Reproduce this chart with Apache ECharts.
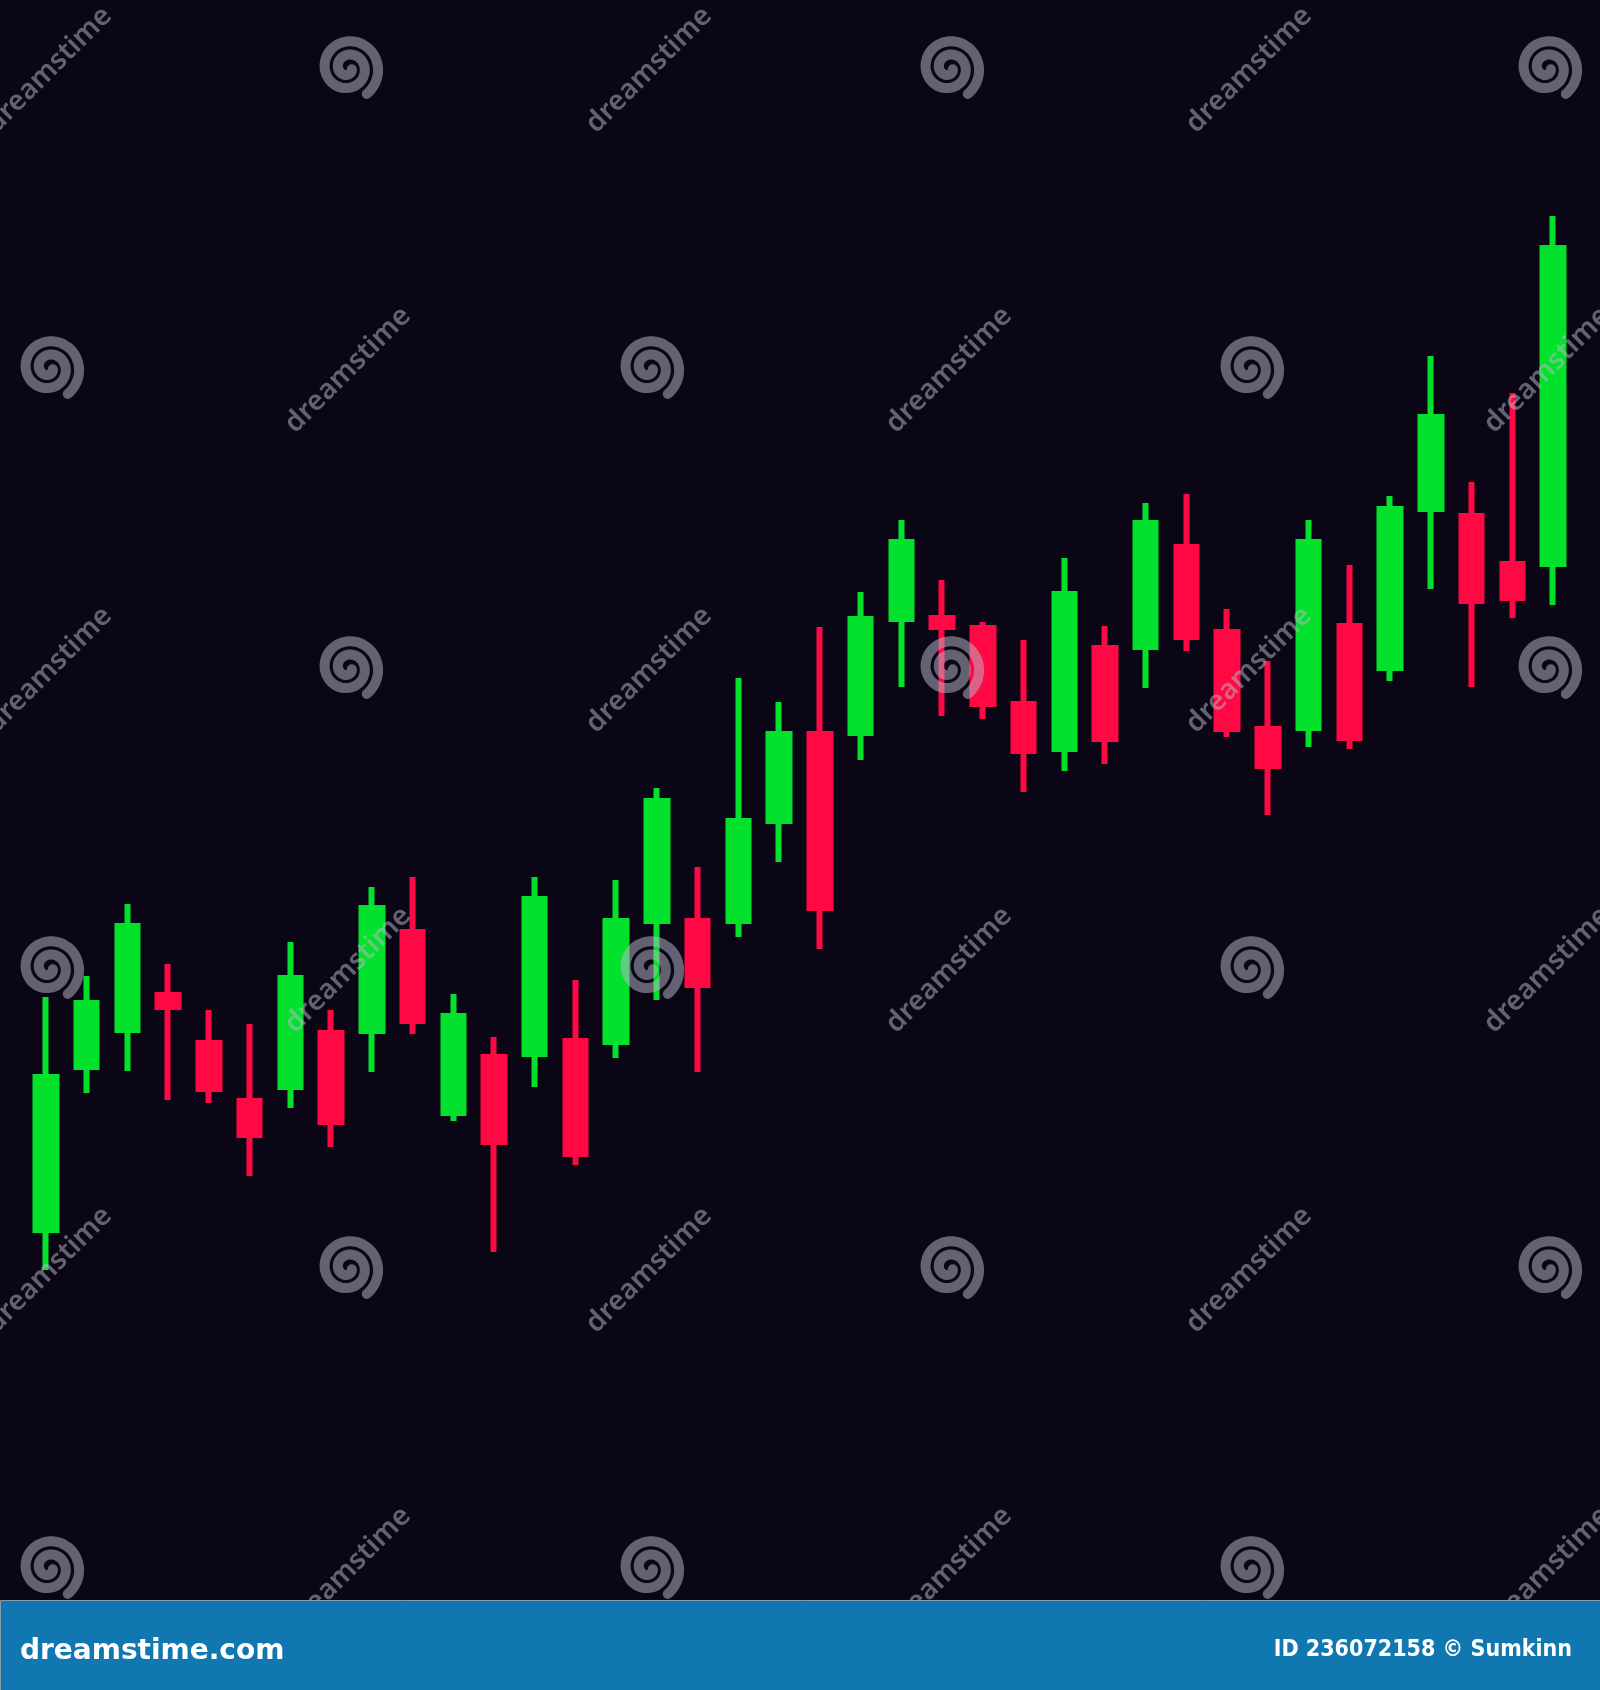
<!DOCTYPE html>
<html>
<head>
<meta charset="utf-8">
<script src="https://cdn.jsdelivr.net/npm/echarts@6/dist/echarts.min.js"></script>
<style>
  html, body { margin: 0; padding: 0; background: #0a0616; }
  #chart { width: 1600px; height: 1690px; }
</style>
</head>
<body>
<div id="chart"></div>
<script>
const categories = ['1','2','3','4','5','6','7','8','9','10','11','12','13','14','15','16','17','18','19','20',
  '21','22','23','24','25','26','27','28','29','30','31','32','33','34','35','36','37','38'];
const openValues  = [37.0, 53.3, 57.0, 60.5, 55.7, 49.9, 51.3, 56.7, 56.9, 66.8, 48.7, 54.3, 54.6, 55.9, 55.8, 67.9, 67.9, 67.9, 77.9, 86.6,
  86.7, 98.1, 98.2, 97.2, 89.6, 85.1, 95.2, 95.3, 105.3, 96.8, 87.1, 87.2, 97.4, 93.2, 109.1, 108.4, 103.6, 103.6];
const closeValues = [52.3, 59.7, 67.4, 59.3, 51.1, 46.5, 62.2, 47.8, 69.2, 57.9, 58.4, 45.8, 70.1, 44.6, 67.9, 79.9, 61.5, 77.9, 86.6, 69.2,
  98.1, 105.8, 97.3, 89.6, 84.9, 100.6, 86.1, 107.7, 96.3, 87.1, 83.4, 105.8, 86.2, 109.1, 118.3, 99.9, 100.2, 135.2];
const lowValues   = [33.0, 50.7, 52.9, 50.0, 49.7, 42.4, 49.2, 45.3, 52.8, 56.6, 47.9, 34.8, 51.3, 43.5, 54.2, 60.0, 52.8, 66.3, 73.8, 65.1,
  84.0, 91.3, 88.4, 88.1, 80.8, 82.9, 83.6, 91.2, 94.9, 86.3, 78.5, 85.3, 85.1, 91.9, 101.1, 91.3, 98.2, 99.5];
const highValues  = [60.3, 62.4, 69.6, 63.6, 59.0, 57.6, 65.8, 59.0, 71.3, 72.3, 60.6, 56.3, 72.3, 62.0, 72.0, 81.2, 73.3, 92.2, 89.8, 97.3,
  100.8, 108.0, 102.0, 97.8, 96.0, 104.2, 97.4, 109.7, 110.6, 99.1, 93.9, 108.0, 103.5, 110.4, 124.4, 111.8, 120.7, 138.4];

const footerLeft = 'dreamstime.com';
const footerRight = 'ID 236072158 \u00A9 Sumkinn';
const watermarkText = 'dreamstime';

const ohlc = categories.map((c, i) => [openValues[i], closeValues[i], lowValues[i], highValues[i]]);

// decorative watermark elements
function spiralPoints() {
  const pts = [];
  const turns = 2.1, rOuter = 32, rInner = 4;
  const steps = 160;
  const start = Math.PI * 0.3;
  for (let s = 0; s <= steps; s++) {
    const t = s / steps;
    const a = start - t * turns * 2 * Math.PI;
    const r = rOuter - (rOuter - rInner) * t;
    pts.push([r * Math.cos(a), r * Math.sin(a)]);
  }
  return pts;
}
const spiral = spiralPoints();
const wmColor = 'rgba(185,185,200,0.52)';
const graphics = [];
for (let j = 0; j < 6; j++) {
  const y = 70 + 300 * j;
  const even = j % 2 === 0;
  const spiralXs = even ? [348, 949, 1547] : [49, 649, 1249];
  const textXs = even ? [49, 649, 1249] : [348, 949, 1547];
  spiralXs.forEach(x => graphics.push({
    type: 'polyline', x: x, y: y - 2, z: 50, silent: true,
    shape: { points: spiral },
    style: { stroke: wmColor, lineWidth: 10, fill: null, lineCap: 'round' }
  }));
  textXs.forEach(x => graphics.push({
    type: 'text', x: x, y: y, z: 50, rotation: Math.PI / 4, silent: true,
    style: { text: watermarkText, font: '600 28px "Noto Sans", sans-serif', fill: wmColor, align: 'center', verticalAlign: 'middle' }
  }));
}
// footer
graphics.push({
  type: 'rect', z: 100, left: 0, top: 1600, silent: true,
  shape: { x: 0, y: 0, width: 1600, height: 90 },
  style: { fill: '#1077b0', stroke: '#8a9aa8', lineWidth: 1 }
});
graphics.push({
  type: 'text', z: 101, x: 20, y: 1652, silent: true,
  style: { text: footerLeft, font: 'bold 28px "DejaVu Sans", sans-serif', fill: '#ffffff', align: 'left', verticalAlign: 'middle' }
});
graphics.push({
  type: 'text', z: 101, x: 1572, y: 1650, silent: true,
  style: { text: footerRight, font: 'bold 23px "DejaVu Sans Condensed", sans-serif', fill: '#ffffff', align: 'right', verticalAlign: 'middle' }
});

const chart = echarts.init(document.getElementById('chart'), null, { renderer: 'canvas' });
chart.setOption({
  backgroundColor: '#0a0616',
  animation: false,
  grid: { left: 25.6, right: 26.6, top: 0, bottom: 90, containLabel: false },
  xAxis: {
    type: 'category', data: categories, boundaryGap: true,
    axisLine: { show: false }, axisTick: { show: false }, axisLabel: { show: false }, splitLine: { show: false }
  },
  yAxis: {
    type: 'value', min: 0, max: 160, scale: false,
    axisLine: { show: false }, axisTick: { show: false }, axisLabel: { show: false }, splitLine: { show: false }
  },
  series: [{
    type: 'candlestick',
    data: ohlc,
    barWidth: 21,
    itemStyle: {
      color: '#02e22c', color0: '#ff0844',
      borderColor: '#02e22c', borderColor0: '#ff0844',
      borderWidth: 6
    }
  }],
  graphic: graphics
});
</script>
</body>
</html>
